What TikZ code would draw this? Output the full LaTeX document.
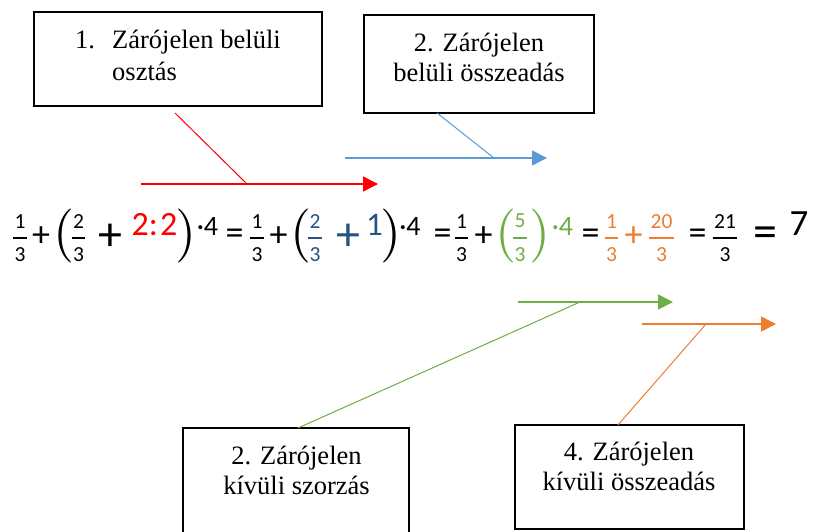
\documentclass[tikz,border=0pt]{standalone}
\usepackage{fontspec}
\setmainfont{Liberation Serif}
\newfontfamily\eqfont{Carlito}
\newfontfamily\parfont{lmroman10-regular.otf}
\usetikzlibrary{arrows.meta, calc}

\definecolor{opred}{RGB}{255,0,0}
\definecolor{opblue}{RGB}{91,155,213}
\definecolor{opnavy}{RGB}{38,84,130}
\definecolor{opgreen}{RGB}{112,173,71}
\definecolor{oporange}{RGB}{237,125,49}

% stacked fraction with a bar
\newcommand{\frc}[2]{\vbox{\offinterlineskip\halign{\hfil\kern1.5pt##\kern1.5pt\hfil\cr #1\cr\noalign{\kern9pt\hrule height 1.6pt\kern9pt}#2\cr}}}

\begin{document}
\begin{tikzpicture}[x=1pt, y=-1pt,
  textbox/.style={draw=black, line width=1.8pt, inner sep=0pt},
  boxtext/.style={font=\fontsize{26.5}{30}\selectfont, inner sep=0pt, align=center},
  conn/.style={line width=1pt},
  pointer/.style={line width=1.6pt, -{Triangle[length=15pt, width=15pt]}},
  fr/.style={inner sep=0pt, font=\eqfont\fontsize{21.5}{21.5}\selectfont},
  op/.style={inner sep=0pt, font=\eqfont\fontsize{36}{36}\selectfont},
  bigop/.style={inner sep=0pt, font=\eqfont\fontsize{48}{48}\selectfont},
  paren/.style={inner sep=0pt, font=\parfont\fontsize{54}{54}\selectfont},
  dig/.style={inner sep=0pt, anchor=base, font=\eqfont\fontsize{#1}{#1}\selectfont}
]
  \useasboundingbox (0,0) rectangle (814,532);
  \clip (0,0) rectangle (814,532);

  % Text boxes
  \node[textbox, minimum width=288pt, minimum height=94pt] (box1) at (178,59) {};
  \node[textbox, minimum width=230pt, minimum height=98pt] (box2) at (479,64) {};
  \node[textbox, minimum width=226pt, minimum height=112pt] (box3) at (296,484) {};
  \node[textbox, minimum width=229pt, minimum height=104pt] (box4) at (629.5,477) {};

  % Box texts
  \node[boxtext, align=left, font=\fontsize{26.5}{32}\selectfont, anchor=north west] (txt1) at (75,30)
    {\makebox[37pt][l]{1.}Zárójelen belüli\\\hspace*{37pt}osztás};
  \node[boxtext, anchor=north] (txt2) at (479,32.5) {2. Zárójelen\\belüli összeadás};
  \node[boxtext, anchor=north] (txt3) at (296.5,446) {2. Zárójelen\\kívüli szorzás};
  \node[boxtext, anchor=north] (txt4) at (629,442) {4. Zárójelen\\kívüli összeadás};

  % Arrow end points
  \coordinate (ra) at (141,184);
  \coordinate (rb) at (378,184);
  \coordinate (rj) at (247,184);
  \coordinate (rs) at (175,113);
  \coordinate (ba) at (345,158);
  \coordinate (bb) at (547,158);
  \coordinate (bj) at (494,158);
  \coordinate (bs) at (437,113);
  \coordinate (ga) at (518,302);
  \coordinate (gb) at (673,302);
  \coordinate (gj) at (580,302);
  \coordinate (gs) at (298,428);
  \coordinate (oa) at (642,324);
  \coordinate (ob) at (776,324);
  \coordinate (oj) at (706,324);
  \coordinate (os) at (618,425);

  % Pointers
  \draw[pointer, opred] (ra) -- (rb);
  \draw[conn, opred] (rs) -- (rj);
  \draw[pointer, opblue] (ba) -- (bb);
  \draw[conn, opblue] (bs) -- (bj);
  \draw[pointer, opgreen] (ga) -- (gb);
  \draw[conn, opgreen] (gs) -- (gj);
  \draw[pointer, oporange] (oa) -- (ob);
  \draw[conn, oporange] (os) -- (oj);

  % Equation, step 1
  \node[fr] (f1) at (20,238) {\frc{1}{3}};
  \node[op] (pl1) at (41,237) {+};
  \node[paren] (lp1) at (64,236) {\makebox[0pt]{(}};
  \node[fr] (f2) at (78.5,238) {\frc{2}{3}};
  \node[bigop] (pl2) at (110,237) {+};
  \node[dig=34, text=opred] (d1) at (154.5,235) {2:\kern2pt2};
  \node[paren] (rp1) at (186,236) {\makebox[0pt]{)}};
  \node[dig=28] (m1) at (207.5,235) {·4};
  \node[op] (eq1) at (234.5,237) {=};

  % Equation, step 2
  \node[fr] (f3) at (257,238) {\frc{1}{3}};
  \node[op] (pl3) at (278.5,237) {+};
  \node[paren] (lp2) at (301,236) {\makebox[0pt]{(}};
  \node[fr, text=opnavy] (f4) at (315,238) {\frc{2}{3}};
  \node[bigop, text=opnavy] (pl4) at (348,237) {+};
  \node[dig=33, text=opnavy] (d2) at (374.5,235) {1};
  \node[paren] (rp2) at (391,236) {\makebox[0pt]{)}};
  \node[dig=28] (m2) at (410,235) {·4};
  \node[op] (eq2) at (442.5,237) {=};

  % Equation, step 3
  \node[fr] (f5) at (461.5,238) {\frc{1}{3}};
  \node[op] (pl5) at (483.5,237) {+};
  \node[paren, text=opgreen] (lp3) at (506,236) {\makebox[0pt]{(}};
  \node[fr, text=opgreen] (f6) at (520,238) {\frc{5}{3}};
  \node[paren, text=opgreen] (rp3) at (540,236) {\makebox[0pt]{)}};
  \node[dig=28, text=opgreen] (m3) at (562.5,235) {·4};
  \node[op] (eq3) at (590.5,237) {=};

  % Equation, steps 4 and result
  \node[fr, text=oporange] (f7) at (611.5,238) {\frc{1}{3}};
  \node[op, text=oporange] (pl6) at (633.5,237) {+};
  \node[fr, text=oporange] (f8) at (661.5,238) {\frc{20}{3}};
  \node[op] (eq4) at (697.5,237) {=};
  \node[fr] (f9) at (725,238) {\frc{21}{3}};
  \node[bigop] (eq5) at (765,237) {=};
  \node[dig=37] (d3) at (799,235) {7};
\end{tikzpicture}
\end{document}
